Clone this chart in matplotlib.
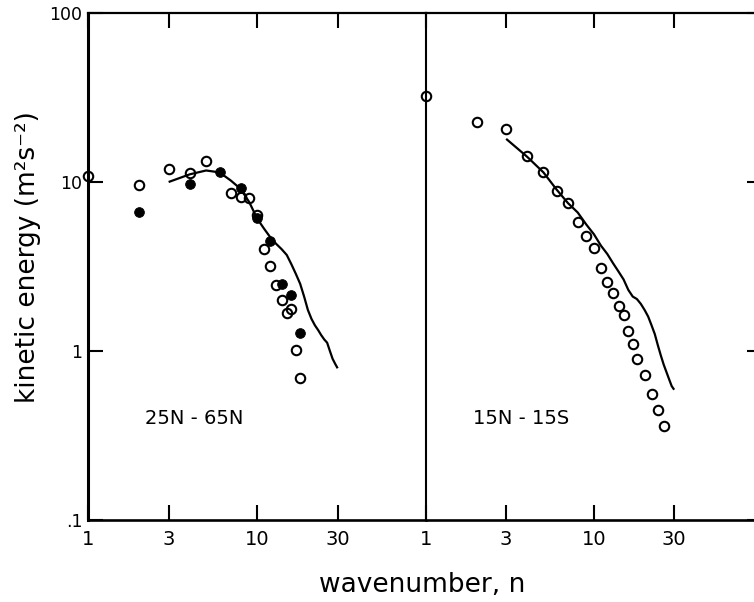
import matplotlib
matplotlib.use("Agg")
import matplotlib.pyplot as plt
from matplotlib.ticker import FixedLocator, FixedFormatter, NullLocator

plt.rcParams['font.family'] = ['DejaVu Sans']

# --- 25N-65N panel ---
north_open_n = [1, 2, 3, 4, 5, 7, 8, 9, 10, 11, 12, 13, 14, 15, 16, 17, 18]
north_open_ke = [10.8, 9.6, 11.9, 11.3, 13.3, 8.6, 8.2, 8.0, 6.4, 4.0, 3.2,
                 2.46, 2.0, 1.68, 1.77, 1.01, 0.69]
north_filled_n = [2, 4, 6, 8, 10, 12, 14, 16, 18]
north_filled_ke = [6.6, 9.7, 11.5, 9.2, 6.1, 4.5, 2.5, 2.15, 1.28]
north_line_n = list(range(3, 31))
north_line_ke = [10.0, 11.1, 11.7, 11.4, 10.2, 9.1, 7.6, 6.1, 5.3, 4.7, 4.3,
                 4.0, 3.7, 3.25, 2.85, 2.5, 2.1, 1.75, 1.55, 1.42, 1.33, 1.24,
                 1.17, 1.12, 1.0, 0.9, 0.84, 0.79]

# --- 15N-15S panel ---
trop_open_n = [1, 2, 3, 4, 5, 6, 7, 8, 9, 10, 11, 12, 13, 14, 15, 16, 17, 18,
               20, 22, 24, 26]
trop_open_ke = [32.3, 22.6, 20.6, 14.3, 11.5, 8.85, 7.5, 5.8, 4.8, 4.07, 3.1,
                2.56, 2.2, 1.85, 1.63, 1.31, 1.10, 0.90, 0.72, 0.56, 0.45, 0.36]
trop_line_n = list(range(3, 31))
trop_line_ke = [18.0, 14.1, 11.4, 9.0, 7.5, 6.6, 5.6, 4.9, 4.2, 3.75, 3.3,
                2.95, 2.65, 2.3, 2.1, 2.03, 1.9, 1.75, 1.6, 1.42, 1.26, 1.08,
                0.94, 0.83, 0.75, 0.68, 0.62, 0.59]

x_ticks = [1, 3, 10, 30]
x_tick_labels = ["1", "3", "10", "30"]
y_ticks = [0.1, 1, 10, 100]
y_tick_labels = [".1", "1", "10", "100"]

W, H = 754, 602
fig = plt.figure(figsize=(W / 100, H / 100), dpi=100)

ax_l, ax_r, ax_b, ax_t = 88, 426, 520, 13
ax1 = fig.add_axes([ax_l / W, (H - ax_b) / H, (ax_r - ax_l) / W, (ax_b - ax_t) / H])
ax2 = fig.add_axes([ax_r / W, (H - ax_b) / H, 336 / W, (ax_b - ax_t) / H])

line_kw = dict(color='black', lw=1.6, solid_capstyle='butt', zorder=2)
open_kw = dict(ls='none', marker='o', ms=6.8, mfc='none', mec='black', mew=1.5,
               zorder=3, clip_on=False)
fill_kw = dict(ls='none', marker='o', ms=7.0, mfc='black', mec='black', mew=0.6,
               zorder=4, clip_on=False)

ax1.plot(north_line_n, north_line_ke, **line_kw)
ax1.plot(north_open_n, north_open_ke, **open_kw)
ax1.plot(north_filled_n, north_filled_ke, **fill_kw)

ax2.plot(trop_line_n, trop_line_ke, **line_kw)
ax2.plot(trop_open_n, trop_open_ke, **open_kw)

for ax in (ax1, ax2):
    ax.set_xscale('log')
    ax.set_yscale('log')
    ax.set_xlim(1, 100)
    ax.set_ylim(0.1, 100)
    ax.xaxis.set_major_locator(FixedLocator(x_ticks))
    ax.xaxis.set_major_formatter(FixedFormatter(x_tick_labels))
    ax.xaxis.set_minor_locator(NullLocator())
    ax.yaxis.set_minor_locator(NullLocator())
    ax.yaxis.set_major_locator(FixedLocator(y_ticks))
    ax.tick_params(axis='x', which='major', direction='in', length=10.5,
                   width=1.5, top=True, bottom=True, labelsize=14, pad=7)
    ax.tick_params(axis='y', which='major', direction='in', length=11,
                   width=1.5, labelsize=12.5, pad=4)
    for s in ax.spines.values():
        s.set_linewidth(1.6)
    ax.spines['bottom'].set_linewidth(1.9)

ax1.yaxis.set_major_formatter(FixedFormatter(y_tick_labels))
ax1.spines['left'].set_linewidth(2.2)
ax1.spines['right'].set_visible(False)
ax1.tick_params(axis='y', left=True, right=False)

ax2.tick_params(axis='y', left=False, right=True, labelleft=False)
ax2.spines['left'].set_linewidth(1.5)

fig.text(194 / W, (H - 418) / H, "25N - 65N", fontsize=14,
         ha='center', va='center')
fig.text(521 / W, (H - 418) / H, "15N - 15S", fontsize=14,
         ha='center', va='center')

fig.text(28 / W, (H - 257) / H, "kinetic energy (m²s⁻²)", rotation=90,
         fontsize=19, ha='center', va='center')
fig.text(422 / W, (H - 585) / H, "wavenumber, n", fontsize=19,
         ha='center', va='center')

fig.savefig("out.png", dpi=100)
